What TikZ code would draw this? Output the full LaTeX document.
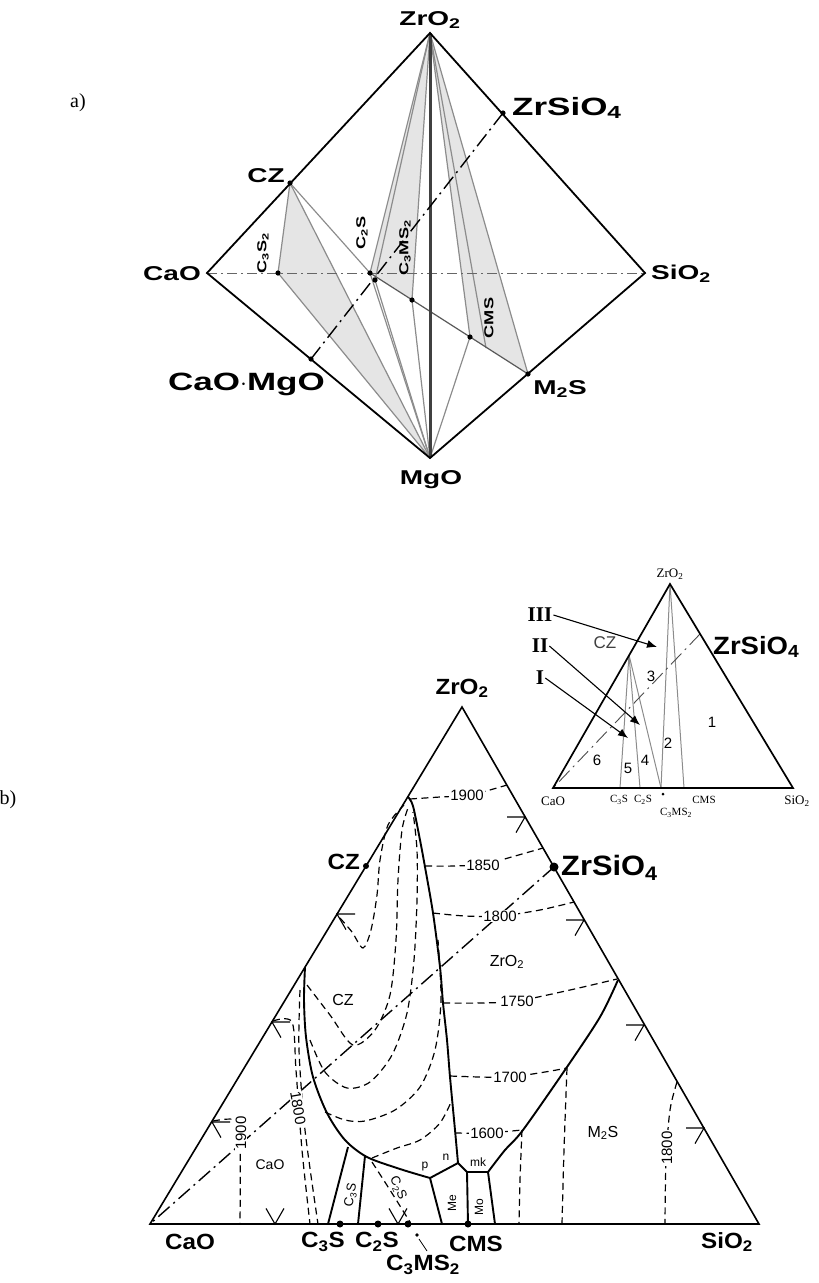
\documentclass[tikz,border=0pt]{standalone}
\usepackage{fontspec}
\setmainfont{Liberation Serif}
\newfontfamily\labA[FakeStretch=1.4]{Liberation Sans}
\newfontfamily\labB[FakeStretch=1.1]{Liberation Sans}
\newfontfamily\plain{Liberation Sans}
\usetikzlibrary{arrows.meta}
\begin{document}
\begin{tikzpicture}[x=1pt,y=-1pt,
  edge/.style={line width=1.8pt,line join=miter},
  tie/.style={line width=1.2pt,black!45},
  thickv/.style={line width=3pt,black!75},
  iso/.style={line width=1.2pt,dash pattern=on 7pt off 4.5pt},
  bound/.style={line width=1.9pt,line join=round},
  dd/.style={line width=1.4pt,dash pattern=on 15pt off 5pt on 2pt off 5pt},
  ddthin/.style={line width=0.9pt,black!60,dash pattern=on 10pt off 4pt on 2pt off 4pt},
  chev/.style={line width=1.1pt},
  shade/.style={fill=black!10},
  lbA/.style={font=\labA\bfseries\fontsize{20}{20}\selectfont,inner sep=1pt},
  lbAbig/.style={font=\labA\bfseries\fontsize{25}{25}\selectfont,inner sep=1pt},
  lbArot/.style={font=\labA\bfseries\fontsize{13}{13}\selectfont,rotate=90,inner sep=1pt},
  lbB/.style={font=\labB\bfseries\fontsize{22}{22}\selectfont,inner sep=1pt},
  lbBbig/.style={font=\labB\bfseries\fontsize{28}{28}\selectfont,inner sep=1pt},
  lbBmid/.style={font=\labB\bfseries\fontsize{25}{25}\selectfont,inner sep=1pt},
  isolab/.style={font=\plain\fontsize{15}{15}\selectfont,fill=white,inner sep=1pt},
  fieldlab/.style={font=\plain\fontsize{16}{16}\selectfont,inner sep=1pt},
  tiny/.style={font=\plain\fontsize{12}{12}\selectfont,inner sep=1pt},
  rotlab/.style={font=\plain\fontsize{13}{13}\selectfont,inner sep=0pt},
  serifsm/.style={font=\fontsize{13}{13}\selectfont,inner sep=1pt},
  roman/.style={font=\bfseries\fontsize{21}{21}\selectfont,inner sep=1pt},
  num/.style={font=\plain\fontsize{15}{15}\selectfont,inner sep=1pt},
  arr/.style={line width=1.1pt,-{Latex[length=10pt,width=8pt]}},
]
\useasboundingbox (0,0) rectangle (819,1283);

%%%%%%%%%%%%%%%% part a %%%%%%%%%%%%%%%%
\coordinate (aZ) at (430,33);
\coordinate (aC) at (207,273);
\coordinate (aS) at (645,273);
\coordinate (aM) at (430,458);
\coordinate (aCZ) at (290,183);
\coordinate (aZS) at (503,113);
\coordinate (aM2S) at (528,374);
\coordinate (aCM) at (311,359);
\coordinate (aC3S2) at (278,273);
\coordinate (aC2S) at (370,273);
\coordinate (aC3MS2) at (375,280);
\coordinate (aP) at (412,300);
\coordinate (aCMS) at (470,337);
\coordinate (aQ) at (486,348);

\fill[shade] (aCZ) -- (aC3S2) -- (aM) -- cycle;
\fill[shade] (aZ) -- (aC2S) -- (aP) -- cycle;
\fill[shade] (aZ) -- (aCMS) -- (aM2S) -- cycle;

\draw[tie] (aCZ) -- (aC3S2) -- (aM);
\draw[tie] (aCZ) -- (aM);
\draw[tie] (aCZ) -- (aC2S) -- (aM);
\draw[tie] (aC3MS2) -- (aM);
\draw[tie] (aP) -- (aM);
\draw[tie] (aCMS) -- (aM);
\draw[tie] (aZ) -- (aC2S);
\draw[tie] (aZ) -- (aC3MS2);
\draw[tie] (aZ) -- (aP);
\draw[tie] (aZ) -- (aCMS);
\draw[tie] (aZ) -- (aQ);
\draw[tie] (aZ) -- (aM2S);
\draw[tie,black!65] (aC2S) -- (aM2S);
\draw[ddthin] (aC) -- (aS);
\draw[thickv] (aZ) -- (aM);
\draw[edge] (aZ) -- (aC) -- (aM) -- (aS) -- cycle;
\draw[dd] (aZS) -- (aCM);

\foreach \p in {aCZ,aZS,aM2S,aCM,aC3S2,aC2S,aC3MS2,aP,aCMS}
  \fill (\p) circle (2.6pt);

\node[lbA,anchor=south] (naZ) at (430,30) {ZrO\textsubscript{2}};
\node[lbA,anchor=east] (naC) at (202,274) {CaO};
\node[lbA,anchor=west] (naS) at (650,274) {SiO\textsubscript{2}};
\node[lbA] (naM) at (431,480) {MgO};
\node[lbA] (naCZ) at (266,176) {CZ};
\node[lbAbig,anchor=west] (naZS) at (511,108) {ZrSiO\textsubscript{4}};
\node[lbAbig,anchor=east] (naCM) at (326,384) {CaO$\cdot$MgO};
\node[lbA] (naM2S) at (560,389) {M\textsubscript{2}S};
\node[lbArot] (naC3S2) at (263,253) {C\textsubscript{3}S\textsubscript{2}};
\node[lbArot] (naC2S) at (362,233) {C\textsubscript{2}S};
\node[lbArot] (naC3MS2) at (405,248) {C\textsubscript{3}MS\textsubscript{2}};
\node[lbArot] (naCMS) at (489,318) {CMS};
\node[font=\fontsize{20}{20}\selectfont] (la) at (78,103) {a)};

%%%%%%%%%%%%%%%% inset %%%%%%%%%%%%%%%%
\coordinate (iZ) at (670,584);
\coordinate (iC) at (553,788);
\coordinate (iS) at (793,788);
\coordinate (iCZ) at (629,655);
\coordinate (iC3S) at (620,788);
\coordinate (iC2S) at (640,788);
\coordinate (iC3MS2) at (661,788);
\coordinate (iCMS) at (684,788);
\coordinate (iZS) at (700,634);

\draw[tie,line width=1pt] (iCZ) -- (iC3S);
\draw[tie,line width=1pt] (iCZ) -- (iC2S);
\draw[tie,line width=1pt] (iCZ) -- (iC3MS2);
\draw[tie,line width=1pt] (iZ) -- (iC3MS2);
\draw[tie,line width=1pt] (iZ) -- (iCMS);
\draw[dd,line width=0.9pt,black!70] (iZS) -- (iC);
\draw[edge,line width=1.7pt] (iZ) -- (iC) -- (iS) -- cycle;
\fill (iC3MS2) ++(2,6) circle (1.5pt);

\node[serifsm,anchor=south] (niZ) at (670,581) {ZrO\textsubscript{2}};
\node[font=\plain\fontsize{17}{17}\selectfont,text=black!75] (niCZ) at (605,643) {CZ};
\node[lbBmid,anchor=west] (niZS) at (712,647) {ZrSiO\textsubscript{4}};
\node[serifsm] (niC) at (553,801) {CaO};
\node[serifsm] (niS) at (797,801) {SiO\textsubscript{2}};
\node[font=\fontsize{11}{11}\selectfont,inner sep=0pt] (niC3S) at (619,800) {C\textsubscript{3}S};
\node[font=\fontsize{11}{11}\selectfont,inner sep=0pt] (niC2S) at (643,800) {C\textsubscript{2}S};
\node[font=\fontsize{11}{11}\selectfont,inner sep=0pt] (niC3MS2) at (676,813) {C\textsubscript{3}MS\textsubscript{2}};
\node[font=\fontsize{11}{11}\selectfont,inner sep=0pt] (niCMS) at (704,800) {CMS};
\node[num] (r1) at (712,722) {1};
\node[num] (r2) at (668,743) {2};
\node[num] (r3) at (651,676) {3};
\node[num] (r4) at (645,760) {4};
\node[num] (r5) at (628,768) {5};
\node[num] (r6) at (597,760) {6};
\node[roman] (lIII) at (540,615) {III};
\node[roman] (lII) at (540,646) {II};
\node[roman] (lI) at (540,678) {I};
\coordinate (tIII) at (657,647);
\coordinate (tII) at (640,725);
\coordinate (tI) at (628,738);
\draw[arr] (lIII.east) -- (tIII);
\draw[arr] (lII.east) -- (tII);
\draw[arr] (lI.east) -- (tI);

%%%%%%%%%%%%%%%% part b main %%%%%%%%%%%%%%%%
\coordinate (A) at (462,707);
\coordinate (B) at (150,1224);
\coordinate (C) at (759,1224);
\coordinate (bCZ) at (366,866);
\coordinate (bZS) at (554,867);
\coordinate (bC3S) at (340,1224);
\coordinate (bC2S) at (378,1224);
\coordinate (bC3MS2) at (408,1224);
\coordinate (bCMS) at (468,1224);
\coordinate (J0) at (408,797);
\coordinate (J1) at (458,1163);
\coordinate (Jp) at (430,1178);
\coordinate (Jq) at (467,1172);
\coordinate (Jr) at (488,1172);

% isotherms in ZrO2 field
\draw[iso] plot[smooth] coordinates {(410,799) (440,797) (470,795) (507,785)};
\draw[iso] plot[smooth] coordinates {(425,866) (455,866) (485,864) (515,856) (543,848)};
\draw[iso] plot[smooth] coordinates {(433,913) (465,916) (500,916) (540,910) (574,902)};
\draw[iso] plot[smooth] coordinates {(443,1003) (480,1003) (517,1001) (570,990) (617,979)};
\draw[iso] plot[smooth] coordinates {(450,1076) (480,1077) (510,1077) (545,1072) (567,1068)};
\draw[iso] plot[smooth] coordinates {(455,1133) (487,1133) (522,1130)};
% M2S field
\draw[iso] plot[smooth] coordinates {(567,1068) (564,1150) (562,1224)};
\draw[iso] plot[smooth] coordinates {(522,1130) (520,1180) (519,1224)};
\draw[iso] plot[smooth] coordinates {(677,1082) (670,1110) (666,1160) (665,1224)};
% CZ field
\draw[iso] plot[smooth] coordinates {(340,918) (352,932) (363,948) (371,930) (377,895) (380,860) (388,825) (404,805)};
\draw[iso] plot[smooth] coordinates {(307,985) (330,1015) (353,1045) (375,1030) (390,995) (396,940) (398,880) (402,830) (408,808)};
\draw[iso] plot[smooth] coordinates {(310,1040) (325,1072) (347,1088) (370,1082) (392,1055) (407,1013) (414,960) (417,900) (417,850) (413,812)};
\draw[iso] plot[smooth] coordinates {(325,1112) (345,1120) (365,1121) (395,1110) (420,1087) (435,1050) (441,1000) (438,940)};
\draw[iso] plot[smooth] coordinates {(372,1158) (397,1148) (420,1140) (440,1123) (452,1100)};
\draw[iso] plot[smooth] coordinates {(372,1162) (390,1190) (410,1222)};
% CaO-side fields
\draw[iso] plot[smooth] coordinates {(213,1121) (235,1120) (240,1140) (240,1224)};
\draw[iso] plot[smooth] coordinates {(273,1021) (292,1022) (296,1070) (302,1150) (310,1224)};
\draw[iso] plot[smooth] coordinates {(300,990) (299,1050) (305,1130) (318,1224)};

% join line
\draw[dd] (bZS) -- (B);

% boundary curves
\draw[bound] plot[smooth] coordinates {(408,797) (413,806) (420,840) (425,867) (433,913) (440,967) (443,1003) (447,1040) (450,1077) (455,1130) (458,1163)};
\draw[bound] plot[smooth] coordinates {(305,967) (304,1000) (306,1037) (313,1077) (327,1113) (345,1140) (367,1157) (400,1169) (430,1178)};
\draw[bound] (Jp) -- (J1) -- (Jq) -- (Jr);
\draw[bound] plot[smooth] coordinates {(488,1172) (505,1150) (523,1130) (567,1067) (600,1017) (618,980)};
\draw[bound] (348,1147) -- (328,1224);
\draw[bound] (365,1156) -- (358,1224);
\draw[bound] (Jp) -- (442,1224);
\draw[bound] (Jq) -- (468,1224);
\draw[bound] (Jr) -- (495,1224);

% triangle
\draw[edge,line width=1.6pt] (A) -- (B) -- (C) -- cycle;

% chevrons
\foreach \t in {(337,914),(272,1022),(212,1122)}
  \draw[chev] \t +(18,0) -- \t -- +(9,15.6);
\foreach \t in {(525,817),(584,920),(644,1025),(704,1128)}
  \draw[chev] \t +(-18,0) -- \t -- +(-9,15.6);
\foreach \t in {(275,1224),(398,1224)}
  \draw[chev] \t +(-9,-15.6) -- \t -- +(9,-15.6);

% dots
\fill (bZS) circle (4.5pt);
\fill (bCZ) circle (3pt);
\foreach \p in {bC3S,bC2S,bC3MS2,bCMS} \fill (\p) circle (3.5pt);
\fill (417,1235) circle (1.8pt);
\draw[line width=0.8pt] (419,1239) -- (427,1251);

% isotherm labels
\node[isolab] (t1900) at (467,795) {1900};
\node[isolab] (t1850) at (483,865) {1850};
\node[isolab] (t1800) at (500,916) {1800};
\node[isolab] (t1750) at (517,1001) {1750};
\node[isolab] (t1700) at (510,1077) {1700};
\node[isolab] (t1600) at (487,1133) {1600};
\node[isolab,rotate=90] (t1800r) at (667,1148) {1800};
\node[isolab,rotate=90] (t1900l) at (241,1133) {1900};
\node[isolab,rotate=-80] (t1800l) at (298,1108) {1800};

% field labels
\node[fieldlab] (fCZ) at (343,1000) {CZ};
\node[fieldlab] (fZrO2) at (507,962) {ZrO\textsubscript{2}};
\node[fieldlab] (fM2S) at (603,1133) {M\textsubscript{2}S};
\node[font=\plain\fontsize{14}{14}\selectfont,inner sep=1pt] (fCaO) at (270,1165) {CaO};
\node[rotlab,rotate=80] (fC3S) at (351,1195) {C\textsubscript{3}S};
\node[rotlab,rotate=-65] (fC2S) at (398,1188) {C\textsubscript{2}S};
\node[tiny,rotate=90] (fMe) at (452,1203) {Me};
\node[tiny,rotate=90] (fMo) at (479,1207) {Mo};
\node[tiny] (fmk) at (478,1162) {mk};
\node[tiny] (fp) at (425,1167) {p};
\node[tiny] (fn) at (446,1157) {n};

% main labels
\node[lbB,anchor=south] (nA) at (462,699) {ZrO\textsubscript{2}};
\node[lbB,anchor=east] (nCZ) at (361,862) {CZ};
\node[lbBbig,anchor=west] (nZS) at (560,868) {ZrSiO\textsubscript{4}};
\node[lbB] (nB) at (190,1242) {CaO};
\node[lbB] (nC) at (727,1242) {SiO\textsubscript{2}};
\node[lbB] (nC3S) at (323,1242) {C\textsubscript{3}S};
\node[lbB] (nC2S) at (377,1242) {C\textsubscript{2}S};
\node[lbB] (nCMS) at (476,1244) {CMS};
\node[lbB] (nC3MS2) at (423,1265) {C\textsubscript{3}MS\textsubscript{2}};
\node[font=\fontsize{20}{20}\selectfont] (lb) at (8,800) {b)};
\end{tikzpicture}
\end{document}
